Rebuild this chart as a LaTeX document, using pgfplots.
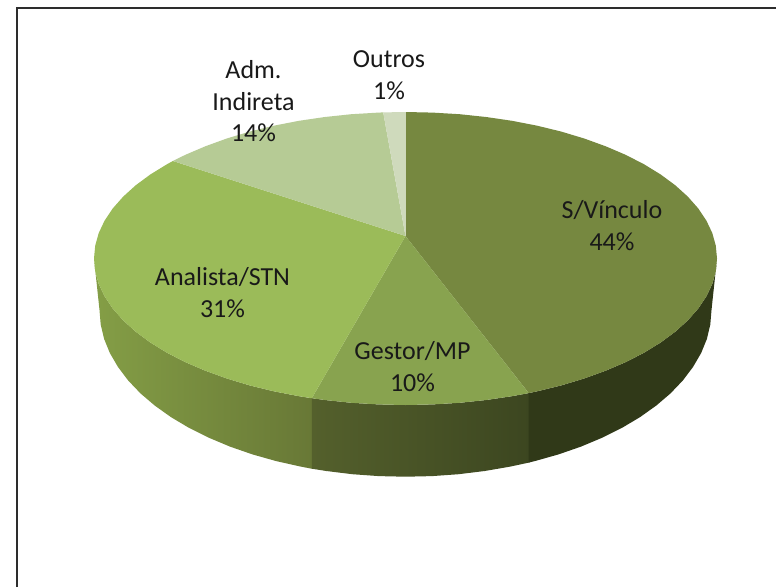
\documentclass[border=0pt]{standalone}
\usepackage{pgfplots}
\pgfplotsset{compat=1.18}
\usepackage{fontspec}
\setmainfont{Carlito}
\definecolor{topS}{RGB}{118,136,64}
\definecolor{topG}{RGB}{136,163,79}
\definecolor{topA}{RGB}{155,187,89}
\definecolor{topI}{RGB}{182,203,149}
\definecolor{topO}{RGB}{207,218,188}
\definecolor{sideAa}{RGB}{132,158,70}
\definecolor{sideAb}{RGB}{120,142,62}
\definecolor{sideAc}{RGB}{104,120,54}
\definecolor{sideGa}{RGB}{84,96,44}
\definecolor{sideGb}{RGB}{60,70,32}
\definecolor{sideS}{RGB}{48,57,24}
\definecolor{txt}{RGB}{25,25,25}
\definecolor{frame}{RGB}{45,45,45}
\tikzset{lbl/.style={font=\fontsize{26}{31.5}\selectfont, text=txt, align=center, inner sep=0pt}}
\begin{document}
\begin{tikzpicture}
\begin{axis}[
  scale only axis, width=776pt, height=587pt,
  xmin=0, xmax=776, ymin=0, ymax=587, y dir=reverse,
  axis lines=none, clip=true,
  every axis plot/.append style={forget plot},
]
% page
\addplot[draw=none, fill=white] coordinates {(0,0)(776,0)(776,587)(0,587)};
% frame
\addplot[draw=frame, line width=2.2pt] coordinates {(17,587) (17,8) (776,8)};
% sides
\addplot[draw=none, left color=sideAa, middle color=sideAb, right color=sideAc] coordinates {
(94.0,258.5)(95.2,271.3)(98.7,283.9)(104.6,296.4)(112.8,308.6)(123.2,320.4)(135.7,331.7)(150.3,342.5)(166.9,352.7)(185.2,362.1)(205.3,370.7)(226.8,378.5)(249.7,385.4)(273.8,391.3)(299.0,396.2)(312.8,398.4)
(312.8,468.9)(300.8,466.6)(276.2,461.1)(252.5,454.4)(230.0,446.6)(208.8,437.7)(189.1,427.9)(171.1,417.2)(154.8,405.6)(140.5,393.4)(128.2,380.5)(118.0,367.0)(109.9,353.1)(104.1,338.9)(100.7,324.5)(99.5,310)
};
\addplot[draw=none, left color=sideGa, right color=sideGb] coordinates {
(311.8,398.2)(324.9,400.0)(351.4,402.8)(378.4,404.4)(405.5,405.0)(432.6,404.4)(459.6,402.8)(486.1,400.0)(512.0,396.2)(529.7,392.9)
(529.7,462.4)(510.2,466.6)(484.7,471.0)(458.6,474.2)(432.2,476.1)(405.5,476.7)(378.8,476.1)(352.4,474.2)(326.3,471.0)(311.8,468.7)
};
\addplot[draw=none, fill=sideS] coordinates {
(528.7,393.1)(537.2,391.3)(561.3,385.4)(584.2,378.5)(605.7,370.7)(625.8,362.1)(644.1,352.7)(660.7,342.5)(675.3,331.7)(687.8,320.4)(698.2,308.6)(706.4,296.4)(712.3,283.9)(715.8,271.3)(717.0,258.5)
(711.5,310)(710.3,324.5)(706.9,338.9)(701.1,353.1)(693.0,367.0)(682.8,380.5)(670.5,393.4)(656.2,405.6)(639.9,417.2)(621.9,427.9)(602.2,437.7)(581.0,446.6)(558.5,454.4)(534.8,461.1)(528.7,462.6)
};
% top face
\addplot[draw=none, fill=topS] coordinates {
(405.5,236)(405.5,112.0)(432.6,112.6)(459.6,114.2)(486.1,117.0)(512.0,120.8)(537.2,125.7)(561.3,131.6)(584.2,138.5)(605.7,146.3)(625.8,154.9)(644.1,164.3)(660.7,174.5)(675.3,185.3)(687.8,196.6)(698.2,208.4)(706.4,220.6)(712.3,233.1)(715.8,245.7)(717.0,258.5)(715.8,271.3)(712.3,283.9)(706.4,296.4)(698.2,308.6)(687.8,320.4)(675.3,331.7)(660.7,342.5)(644.1,352.7)(625.8,362.1)(605.7,370.7)(584.2,378.5)(561.3,385.4)(537.2,391.3)(528.7,393.1)
};
\addplot[draw=none, fill=topG] coordinates {
(405.5,236)(528.7,393.1)(512.0,396.2)(486.1,400.0)(459.6,402.8)(432.6,404.4)(405.5,405.0)(378.4,404.4)(351.4,402.8)(324.9,400.0)(311.8,398.2)
};
\addplot[draw=none, fill=topA] coordinates {
(405.5,236)(311.8,398.2)(299.0,396.2)(273.8,391.3)(249.7,385.4)(226.8,378.5)(205.3,370.7)(185.2,362.1)(166.9,352.7)(150.3,342.5)(135.7,331.7)(123.2,320.4)(112.8,308.6)(104.6,296.4)(98.7,283.9)(95.2,271.3)(94.0,258.5)(95.2,245.7)(98.7,233.1)(104.6,220.6)(112.8,208.4)(123.2,196.6)(135.7,185.3)(150.3,174.5)(166.9,164.3)(172.9,161.0)
};
\addplot[draw=none, fill=topI] coordinates {
(405.5,236)(172.9,161.0)(185.2,154.9)(205.3,146.3)(226.8,138.5)(249.7,131.6)(273.8,125.7)(299.0,120.8)(324.9,117.0)(351.4,114.2)(378.4,112.6)(383.2,112.4)
};
\addplot[draw=none, fill=topO] coordinates {
(405.5,236)(383.2,112.4)(405.5,112.0)
};
% labels
\node[lbl] at (axis cs:389,75) {Outros\\1\%};
\node[lbl] at (axis cs:253.5,101.5) {Adm.\\Indireta\\14\%};
\node[lbl] at (axis cs:612,225.5) {S/Vínculo\\44\%};
\node[lbl] at (axis cs:222.5,292.5) {Analista/STN\\31\%};
\node[lbl] at (axis cs:412.5,366.5) {Gestor/MP\\10\%};
\end{axis}
\end{tikzpicture}
\end{document}
